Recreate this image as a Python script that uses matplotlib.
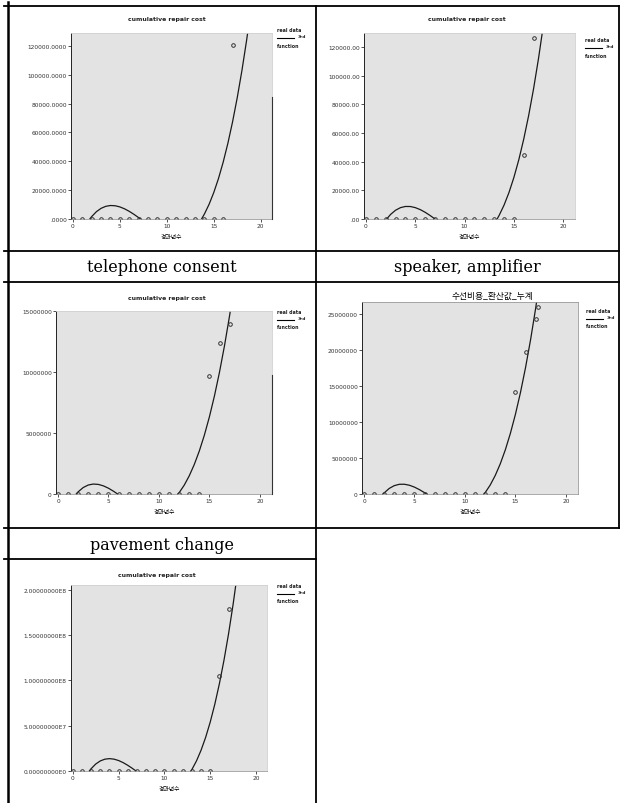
import numpy as np
import matplotlib
matplotlib.use('Agg')
import matplotlib.pyplot as plt
from matplotlib.lines import Line2D

plt.rcParams['font.family'] = ['DejaVu Sans', 'Noto Sans CJK KR']

# ---- data ----
year_ticks = [0, 5, 10, 15, 20]

top_left_years = [0, 1, 2, 3, 4, 5, 6, 7, 8, 9, 10, 11, 12, 13, 14, 15, 16, 17]
top_left_cost = [0, 0, 0, 0, 0, 0, 0, 0, 0, 0, 0, 0, 0, 0, 0, 0, 0, 121000]
top_left_fit_x = [1.8, 2.0, 2.5, 3.0, 3.5, 4.0, 4.5, 5.0, 5.5, 6.0, 6.5, 7.0, 7.2, None,
                  13.7, 14.0, 14.5, 15.0, 15.5, 16.0, 16.5, 17.0, 17.5, 18.0, 18.5, 19.0]
top_left_fit_y = [0, 1667, 5048, 7388, 8790, 9355, 9188, 8391, 7066, 5317, 3245, 955, 0, None,
                  0, 3410, 10161, 18338, 28041, 39375, 52442, 67345, 84187, 103069, 124096, 147370]
top_left_yticks = ['.0000', '20000.0000', '40000.0000', '60000.0000', '80000.0000',
                   '100000.0000', '120000.0000']

top_right_years = [0, 1, 2, 3, 4, 5, 6, 7, 8, 9, 10, 11, 12, 13, 14, 15, 16, 17]
top_right_cost = [0, 0, 0, 0, 0, 0, 0, 0, 0, 0, 0, 0, 0, 0, 0, 0, 45000, 126000]
top_right_fit_x = [2.1, 2.5, 3.0, 3.5, 4.0, 4.5, 5.0, 5.5, 6.0, 6.5, 7.0, None,
                   13.3, 13.5, 14.0, 14.5, 15.0, 15.5, 16.0, 16.5, 17.0, 17.5, 18.0]
top_right_fit_y = [0, 3208, 6118, 7923, 8747, 8712, 7943, 6564, 4698, 2468, 0, None,
                   0, 2445, 9621, 18414, 28948, 41346, 55732, 72230, 90965, 112058, 135635]
top_right_yticks = ['.00', '20000.00', '40000.00', '60000.00', '80000.00', '100000.00', '120000.00']

telephone_years = [0, 1, 2, 3, 4, 5, 6, 7, 8, 9, 10, 11, 12, 13, 14, 15, 16, 17]
telephone_cost = [0, 0, 0, 0, 0, 0, 0, 0, 0, 0, 0, 0, 0, 0, 0, 9.7e6, 12.4e6, 13.9e6]
telephone_fit_x = [1.8, 2.0, 2.5, 3.0, 3.5, 4.0, 4.5, 5.0, 5.5, 5.9, None,
                   11.9, 12.0, 12.5, 13.0, 13.5, 14.0, 14.5, 15.0, 15.5, 16.0, 16.5, 17.0, 17.5]
telephone_fit_y = [0, 183e3, 532e3, 738e3, 816e3, 785e3, 666e3, 473e3, 225e3, 0, None,
                   0, 106e3, 720e3, 1.487e6, 2.419e6, 3.528e6, 4.827e6, 6.330e6, 8.049e6,
                   9.996e6, 12.185e6, 14.628e6, 17.338e6]
telephone_yticks = ['0', '5000000', '10000000', '15000000']

speaker_years = [0, 1, 2, 3, 4, 5, 6, 7, 8, 9, 10, 11, 12, 13, 14, 15, 16, 17, 17.2]
speaker_cost = [0, 0, 0, 0, 0, 0, 0, 0, 0, 0, 0, 0, 0, 0, 0, 14.2e6, 19.7e6, 24.3e6, 26.0e6]
speaker_fit_x = [1.9, 2.0, 2.5, 3.0, 3.5, 4.0, 4.5, 5.0, 5.5, 6.0, 6.2, None,
                 11.9, 12.0, 12.5, 13.0, 13.5, 14.0, 14.5, 15.0, 15.5, 16.0, 16.5, 17.0, 17.5]
speaker_fit_y = [0, 155e3, 776e3, 1.165e6, 1.350e6, 1.357e6, 1.217e6, 955e3, 600e3, 180e3, 0, None,
                 0, 182e3, 1.242e6, 2.574e6, 4.200e6, 6.144e6, 8.429e6, 11.078e6, 14.115e6,
                 17.563e6, 21.444e6, 25.783e6, 30.602e6]
speaker_yticks = ['0', '5000000', '10000000', '15000000', '20000000', '25000000']

pavement_years = [0, 1, 2, 3, 4, 5, 6, 7, 8, 9, 10, 11, 12, 13, 14, 15, 16, 17]
pavement_cost = [0, 0, 0, 0, 0, 0, 0, 0, 0, 0, 0, 0, 0, 0, 0, 0, 1.05e8, 1.79e8]
pavement_fit_x = [1.8, 2.0, 2.5, 3.0, 3.5, 4.0, 4.5, 5.0, 5.5, 6.0, 6.5, 6.9, None,
                  12.9, 13.0, 13.5, 14.0, 14.5, 15.0, 15.5, 16.0, 16.5, 17.0, 17.5, 18.0]
pavement_fit_y = [0, 2.56e6, 7.69e6, 11.12e6, 13.04e6, 13.63e6, 13.06e6, 11.53e6, 9.20e6, 6.26e6,
                  2.89e6, 0, None, 0, 1.64e6, 11.12e6, 22.87e6, 37.06e6, 53.89e6, 73.52e6,
                  96.14e6, 121.93e6, 151.06e6, 183.73e6, 220.10e6]
pavement_yticks = ['0.00000000E0', '5.00000000E7', '1.00000000E8', '1.50000000E8', '2.00000000E8']

cell_labels = ['telephone consent', 'speaker, amplifier', 'pavement change']
title_en = 'cumulative repair cost'
title_kr = '수선비용_환산값_누계'
xlabel_kr = '경과년수'

W, H = 620, 804
fig = plt.figure(figsize=(W / 100, H / 100), dpi=100)
fig.patch.set_facecolor('white')


def px_box(x0, y0, x1, y1):
    return [x0 / W, 1 - y1 / H, (x1 - x0) / W, (y1 - y0) / H]


def line(x0, y0, x1, y1, lw=1.3, color='black'):
    fig.add_artist(Line2D([x0 / W, x1 / W], [1 - y0 / H, 1 - y1 / H], color=color,
                          lw=lw, transform=fig.transFigure))


def ftext(x, y, s, **kw):
    fig.text(x / W, 1 - y / H, s, **kw)


def panel(box, ymax, ystep, ylabels, years, cost, fit_x, fit_y, title, title_xy, legend_xy,
          framed=False):
    ax = fig.add_axes(px_box(*box))
    ax.set_facecolor('#e3e3e3')
    ax.plot(np.array(fit_x, dtype=float), np.array(fit_y, dtype=float), color='#1a1a1a', lw=0.9)
    ax.plot(years, cost, ls='none', marker='o', ms=2.6, mfc='none', mec='#333333', mew=0.7)
    ax.set_xlim(-0.2, 21.2)
    ax.set_ylim(0, ymax)
    ax.set_xticks(year_ticks)
    ax.set_xticklabels([str(t) for t in year_ticks])
    ax.set_yticks([i * ystep for i in range(len(ylabels))])
    ax.set_yticklabels(ylabels)
    ax.tick_params(length=2, width=0.6, pad=1, labelsize=4.2, colors='#333333')
    for side in ['top', 'right']:
        ax.spines[side].set_color('#9a9a9a' if framed else '#d0d0d0')
        ax.spines[side].set_linewidth(0.6)
    ax.spines['left'].set_color('#222222')
    ax.spines['left'].set_linewidth(0.7)
    ax.spines['bottom'].set_color('#888888')
    ax.spines['bottom'].set_linewidth(0.5)
    ax.set_xlabel(xlabel_kr, family=['Noto Sans CJK KR', 'DejaVu Sans'], fontsize=4.2, labelpad=4)
    # title
    if title == title_kr:
        ftext(title_xy[0], title_xy[1], title, family=['Noto Sans CJK KR', 'DejaVu Sans'],
              fontsize=6.3, ha='center', va='center')
    else:
        ftext(title_xy[0], title_xy[1], title, fontsize=4.4, fontweight='bold',
              ha='center', va='center', color='#222222')
    # small legend at the right of the plot
    lx, ly = legend_xy
    ftext(lx, ly, 'real data', fontsize=3.4, fontweight='bold', va='center', color='#222222')
    fig.add_artist(Line2D([lx / W, (lx + 17) / W], [1 - (ly + 8) / H, 1 - (ly + 8) / H],
                          color='black', lw=0.8, transform=fig.transFigure))
    ftext(lx + 21, ly + 6, '3rd', fontsize=3.2, fontweight='bold', va='center', color='#222222')
    ftext(lx, ly + 15, 'function', fontsize=3.4, fontweight='bold', va='center', color='#222222')
    return ax


panel((71, 34, 272, 220), 129000, 20000, top_left_yticks, top_left_years, top_left_cost,
      top_left_fit_x, top_left_fit_y, title_en, (167, 20), (277, 31))
panel((364, 34, 575, 220), 129800, 20000, top_right_yticks, top_right_years, top_right_cost,
      top_right_fit_x, top_right_fit_y, title_en, (467, 20), (585, 41))
panel((56, 312, 272, 495), 15e6, 5e6, telephone_yticks, telephone_years, telephone_cost,
      telephone_fit_x, telephone_fit_y, title_en, (167, 299), (277, 313))
panel((362, 303, 578, 495), 26.7e6, 5e6, speaker_yticks, speaker_years, speaker_cost,
      speaker_fit_x, speaker_fit_y, title_kr, (492, 296), (586, 312), framed=True)
panel((71, 586, 267, 772), 2.05e8, 5e7, pavement_yticks, pavement_years, pavement_cost,
      pavement_fit_x, pavement_fit_y, title_en, (157, 575), (277, 587))

# scan leftovers: short dark strokes at the right edge of two plots
line(272, 98, 272, 220, lw=0.8, color='#333333')
line(272, 376, 272, 495, lw=0.8, color='#333333')

# table grid around the panels
line(8, 3, 8, 804, lw=1.8)
line(316, 7, 316, 804)
line(619, 7, 619, 529)
line(4, 7, 619, 7)
line(4, 252, 619, 252)
line(4, 283, 619, 283)
line(4, 529, 619, 529)
line(4, 560, 316, 560)

# row labels
ftext(162, 268, cell_labels[0], family='DejaVu Serif', fontsize=11.5, ha='center', va='center')
ftext(467, 268, cell_labels[1], family='DejaVu Serif', fontsize=11.5, ha='center', va='center')
ftext(162, 545, cell_labels[2], family='DejaVu Serif', fontsize=11.5, ha='center', va='center')

fig.savefig('out.png', dpi=100)
